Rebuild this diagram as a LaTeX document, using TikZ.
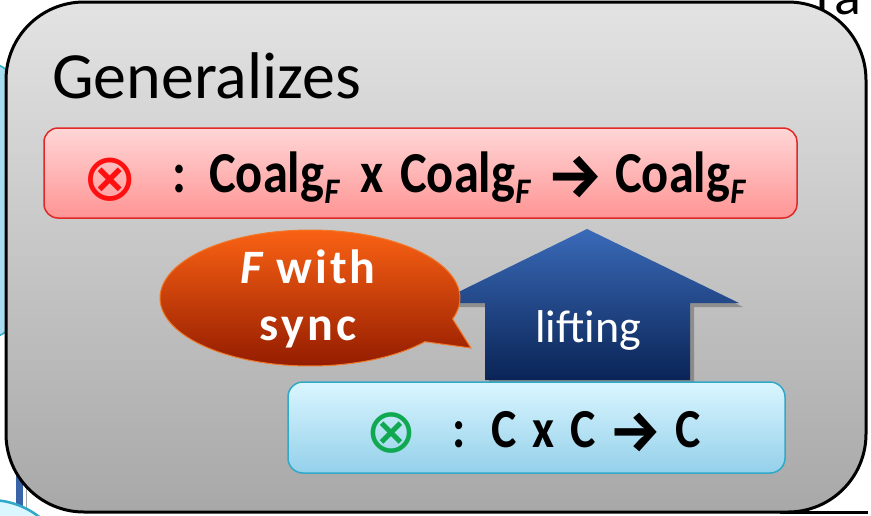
\documentclass[tikz,border=0pt]{standalone}
\usepackage{fontspec}
\setmainfont{Carlito}
\newfontfamily\dejavu{DejaVu Sans}
\newfontfamily\narrowb[FakeStretch=0.87]{Carlito Bold}
\newfontfamily\narrowbi[FakeStretch=0.9]{Carlito Bold Italic}
\newfontfamily\spaced[LetterSpace=6.5]{Carlito}
\newfontfamily\firab{Fira Sans Bold}
\definecolor{boxtop}{HTML}{E3E3E3}
\definecolor{boxbot}{HTML}{A8A8A8}
\definecolor{redtop}{HTML}{FFD6D6}
\definecolor{redbot}{HTML}{FF9494}
\definecolor{redline}{HTML}{E02828}
\definecolor{cyantop}{HTML}{DAF6FF}
\definecolor{cyanbot}{HTML}{94D0EA}
\definecolor{cyanline}{HTML}{30A8C8}
\definecolor{bubtop}{HTML}{FA6214}
\definecolor{bubbot}{HTML}{941C00}
\definecolor{bubline}{HTML}{F07828}
\definecolor{arrtop}{HTML}{3A6AB8}
\definecolor{arrbot}{HTML}{0A2456}
\definecolor{otred}{HTML}{FF1010}
\definecolor{otgreen}{HTML}{10A850}
\definecolor{bgblue}{HTML}{A8DCF0}
\definecolor{barblue}{HTML}{3A64A8}
\newcommand{\subF}{\raisebox{-11pt}{\narrowbi\fontsize{36}{36}\selectfont F}}
\tikzset{
  fsz/.style={font=\fontsize{#1}{#1}\selectfont},
  lbl/.style={inner sep=0pt, anchor=base},
  wlbl/.style={inner sep=0pt, anchor=base west},
}
\begin{document}
\begin{tikzpicture}[x=1pt,y=-1pt]
\useasboundingbox (0,0) rectangle (871,515);
\begin{scope}
\clip (0,0) rectangle (871,515);
% background fragments
\node[wlbl, fsz=56] (ra) at (816,14) {ra};
\draw[cyanline, line width=1.5, fill=bgblue] (-60,64) [rounded corners=20] -- (12,64) -- (12,337) -- (-60,337) -- cycle;
\fill[barblue] (16,462) rectangle (23,515);
\draw[gray!70, line width=0.8] (26,462) -- (26,515);
\draw[cyanline, line width=2.5, fill=cyantop] (-10,580) circle (80);
\draw[black, line width=2.5] (780,512.5) -- (868,512.5);
% main box
\shade[top color=boxtop, bottom color=boxbot, draw=black, line width=3, rounded corners=78]
  (6,2) rectangle (866,512);
\end{scope}
\node[wlbl, fsz=66] (gen) at (52,98) {Generalizes};
% red box
\shade[top color=redtop, bottom color=redbot, draw=redline, line width=1.5, rounded corners=14]
  (44,128) rectangle (797,218);
\node[inner sep=0pt, fsz=66, text=otred] (otr) at (110,180) {\dejavu ⊗};
\node[lbl, fsz=58] (colr) at (179,192) {\narrowb :};
\node[wlbl, fsz=58] (c1) at (209,192) {\narrowb Coalg\subF};
\node[wlbl, fsz=58] (x1) at (360,192) {\narrowb x};
\node[wlbl, fsz=58] (c2) at (400,192) {\narrowb Coalg\subF};
\node[inner sep=0pt, fsz=62] (a1) at (575,177) {\firab →};
\node[wlbl, fsz=58] (c3) at (615,192) {\narrowb Coalg\subF};
% arrow
\fill[black, opacity=0.25] (489,385) -- (489,307) -- (440,307) -- (591,233) -- (743,307) -- (694,307) -- (694,385) -- cycle;
\shade[top color=arrtop, bottom color=arrbot]
  (485,380) -- (485,303) -- (436,303) -- (587,229) -- (739,303) -- (690,303) -- (690,380) -- cycle;
\node[lbl, fsz=46, text=white] (lift) at (588,342) {lifting};
% bubble
\shade[top color=bubtop, bottom color=bubbot, draw=bubline, line width=1]
  plot[domain=40:378, samples=120] ({310+150*cos(\x)}, {298+68*sin(\x)}) -- (471,348) -- cycle;
\node[lbl, fsz=48, text=white] (fw) at (308,283) {\spaced\bfseries\itshape F\upshape\ with};
\node[lbl, fsz=48, text=white] (sync) at (308,340) {\spaced\bfseries sync};
% cyan box
\shade[top color=cyantop, bottom color=cyanbot, draw=cyanline, line width=1.5, rounded corners=15]
  (288,382) rectangle (785,473);
\node[inner sep=0pt, fsz=62, text=otgreen] (otg) at (391,433) {\dejavu ⊗};
\node[lbl, fsz=55] (colc) at (459,447) {\narrowb :};
\node[wlbl, fsz=55] (k1) at (491,447) {\narrowb C};
\node[wlbl, fsz=55] (kx) at (532,447) {\narrowb x};
\node[wlbl, fsz=55] (k2) at (570,447) {\narrowb C};
\node[inner sep=0pt, fsz=58] (a2) at (636,432) {\firab →};
\node[wlbl, fsz=55] (k3) at (675,447) {\narrowb C};
\end{tikzpicture}
\end{document}
